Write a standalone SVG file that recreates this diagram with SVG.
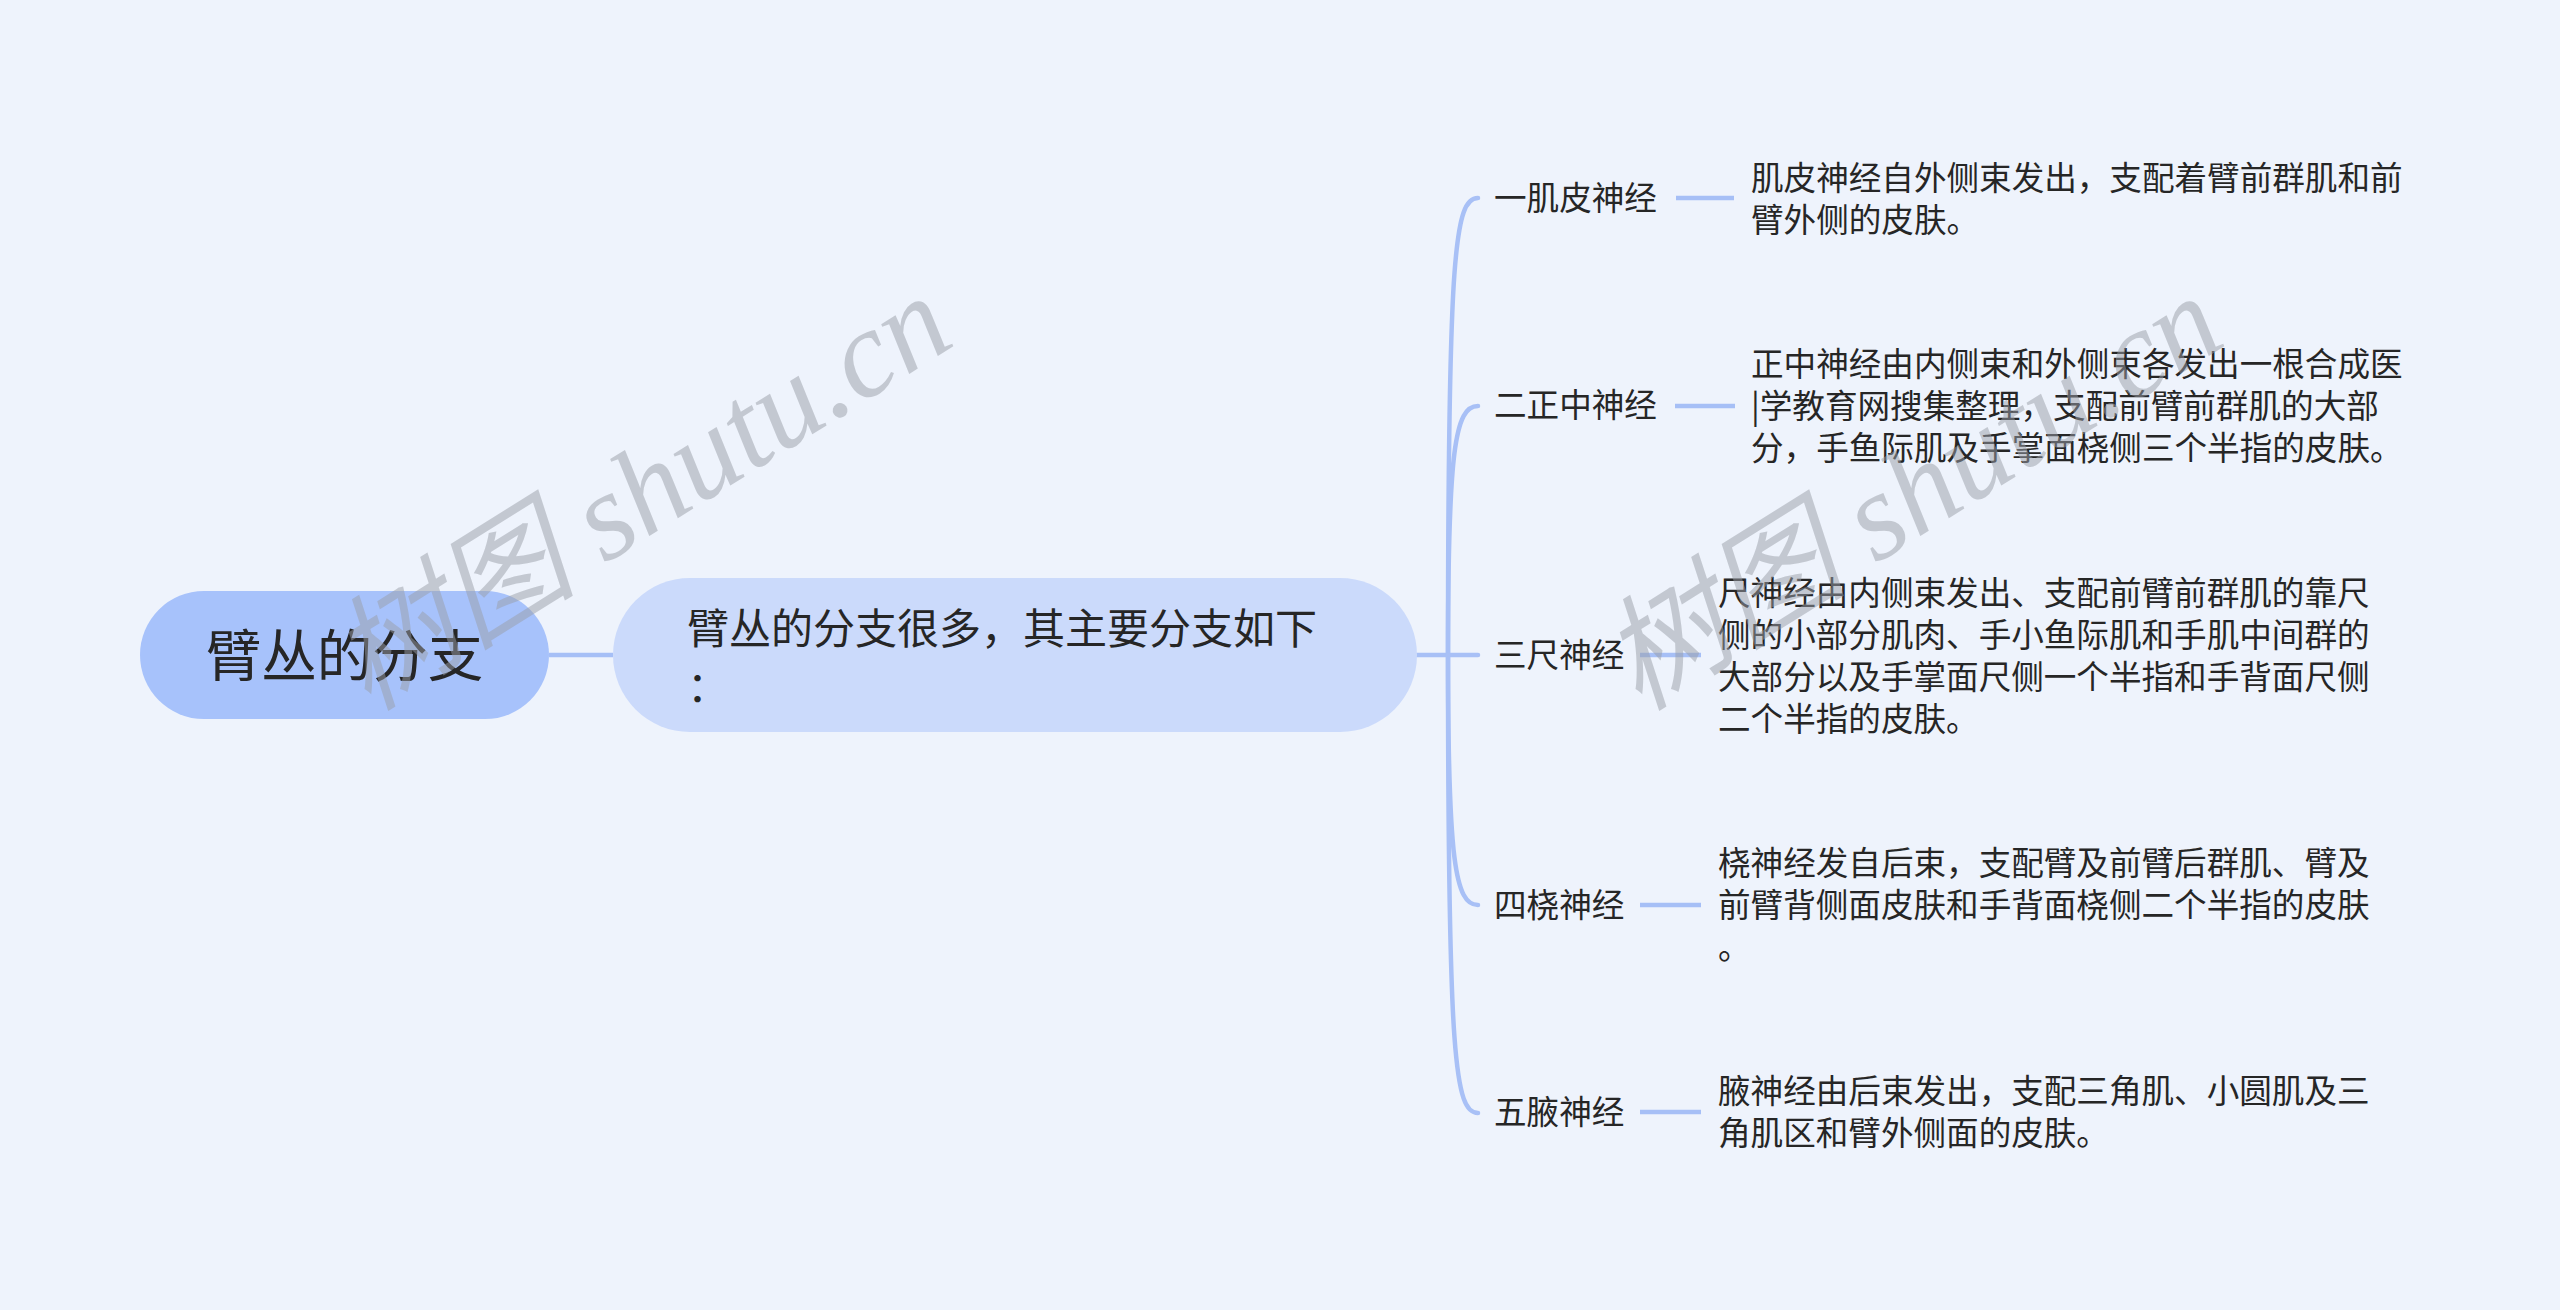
<svg xmlns="http://www.w3.org/2000/svg" width="2560" height="1310" viewBox="0 0 2560 1310">
<style>
.bg{fill:#eef3fc}
.t{font-family:"Noto Sans CJK SC","Noto Sans",sans-serif;fill:#262626}
.lbl{font-size:32.6px}
.desc{font-size:32.6px}
.link{fill:none;stroke:#a8c0f6;stroke-width:4.5;stroke-linecap:round}
.short{fill:none;stroke:#a6bff6;stroke-width:4.5}
.wm{font-family:"Liberation Serif","Noto Sans CJK SC",serif;font-style:italic;font-size:124px;fill:#9a9fa8;opacity:0.5}
</style>
<rect class="bg" x="0" y="0" width="2560" height="1310"/>
<g id="connectors">
<line class="short" x1="549" y1="655" x2="613" y2="655"/>
<path class="link" d="M1417 655 H1448"/>
<path class="link" d="M1448 655 C1448 250 1455 198 1478 198"/>
<path class="link" d="M1448 655 C1448 450 1455 406 1478 406"/>
<path class="link" d="M1448 655 H1478"/>
<path class="link" d="M1448 655 C1448 860 1455 905 1478 905"/>
<path class="link" d="M1448 655 C1448 1060 1455 1113 1478 1113"/>
<line class="short" x1="1676" y1="198" x2="1734" y2="198"/>
<line class="short" x1="1675" y1="406" x2="1735" y2="406"/>
<line class="short" x1="1640" y1="655" x2="1701" y2="655"/>
<line class="short" x1="1640" y1="905" x2="1701" y2="905"/>
<line class="short" x1="1640" y1="1112" x2="1701" y2="1112"/>
</g>
<g id="root">
<rect x="140" y="591" width="409" height="128" rx="64" fill="#a7c2fb"/>
<text class="t" x="344.5" y="676" font-size="55.5" text-anchor="middle">臂丛的分支</text>
</g>
<g id="summary">
<rect x="613" y="578" width="804" height="154" rx="77" fill="#cbdafb"/>
<text class="t" font-size="42"><tspan x="687" y="644">臂丛的分支很多，其主要分支如下</tspan><tspan x="687" y="702">：</tspan></text>
</g>
<g id="b1">
<text class="t lbl" x="1494" y="210">一肌皮神经</text>
</g>
<g id="d1">
<text class="t desc"><tspan x="1751" y="190">肌皮神经自外侧束发出，支配着臂前群肌和前</tspan><tspan x="1751" y="232">臂外侧的皮肤。</tspan></text>
</g>
<g id="b2">
<text class="t lbl" x="1494" y="417">二正中神经</text>
</g>
<g id="d2">
<text class="t desc"><tspan x="1751" y="376">正中神经由内侧束和外侧束各发出一根合成医</tspan><tspan x="1751" y="418">|学教育网搜集整理，支配前臂前群肌的大部</tspan><tspan x="1751" y="460">分，手鱼际肌及手掌面桡侧三个半指的皮肤。</tspan></text>
</g>
<g id="b3">
<text class="t lbl" x="1494" y="667">三尺神经</text>
</g>
<g id="d3">
<text class="t desc"><tspan x="1718" y="605">尺神经由内侧束发出、支配前臂前群肌的靠尺</tspan><tspan x="1718" y="647">侧的小部分肌肉、手小鱼际肌和手肌中间群的</tspan><tspan x="1718" y="689">大部分以及手掌面尺侧一个半指和手背面尺侧</tspan><tspan x="1718" y="731">二个半指的皮肤。</tspan></text>
</g>
<g id="b4">
<text class="t lbl" x="1494" y="917">四桡神经</text>
</g>
<g id="d4">
<text class="t desc"><tspan x="1718" y="875">桡神经发自后束，支配臂及前臂后群肌、臂及</tspan><tspan x="1718" y="917">前臂背侧面皮肤和手背面桡侧二个半指的皮肤</tspan><tspan x="1718" y="959">。</tspan></text>
</g>
<g id="b5">
<text class="t lbl" x="1494" y="1124">五腋神经</text>
</g>
<g id="d5">
<text class="t desc"><tspan x="1718" y="1103">腋神经由后束发出，支配三角肌、小圆肌及三</tspan><tspan x="1718" y="1145">角肌区和臂外侧面的皮肤。</tspan></text>
</g>
<g id="watermarks">
<text class="wm" transform="translate(368 712) rotate(-32)">树图 shutu.cn</text>
<text class="wm" transform="translate(1639 712) rotate(-32)">树图 shutu.cn</text>
</g>
</svg>
